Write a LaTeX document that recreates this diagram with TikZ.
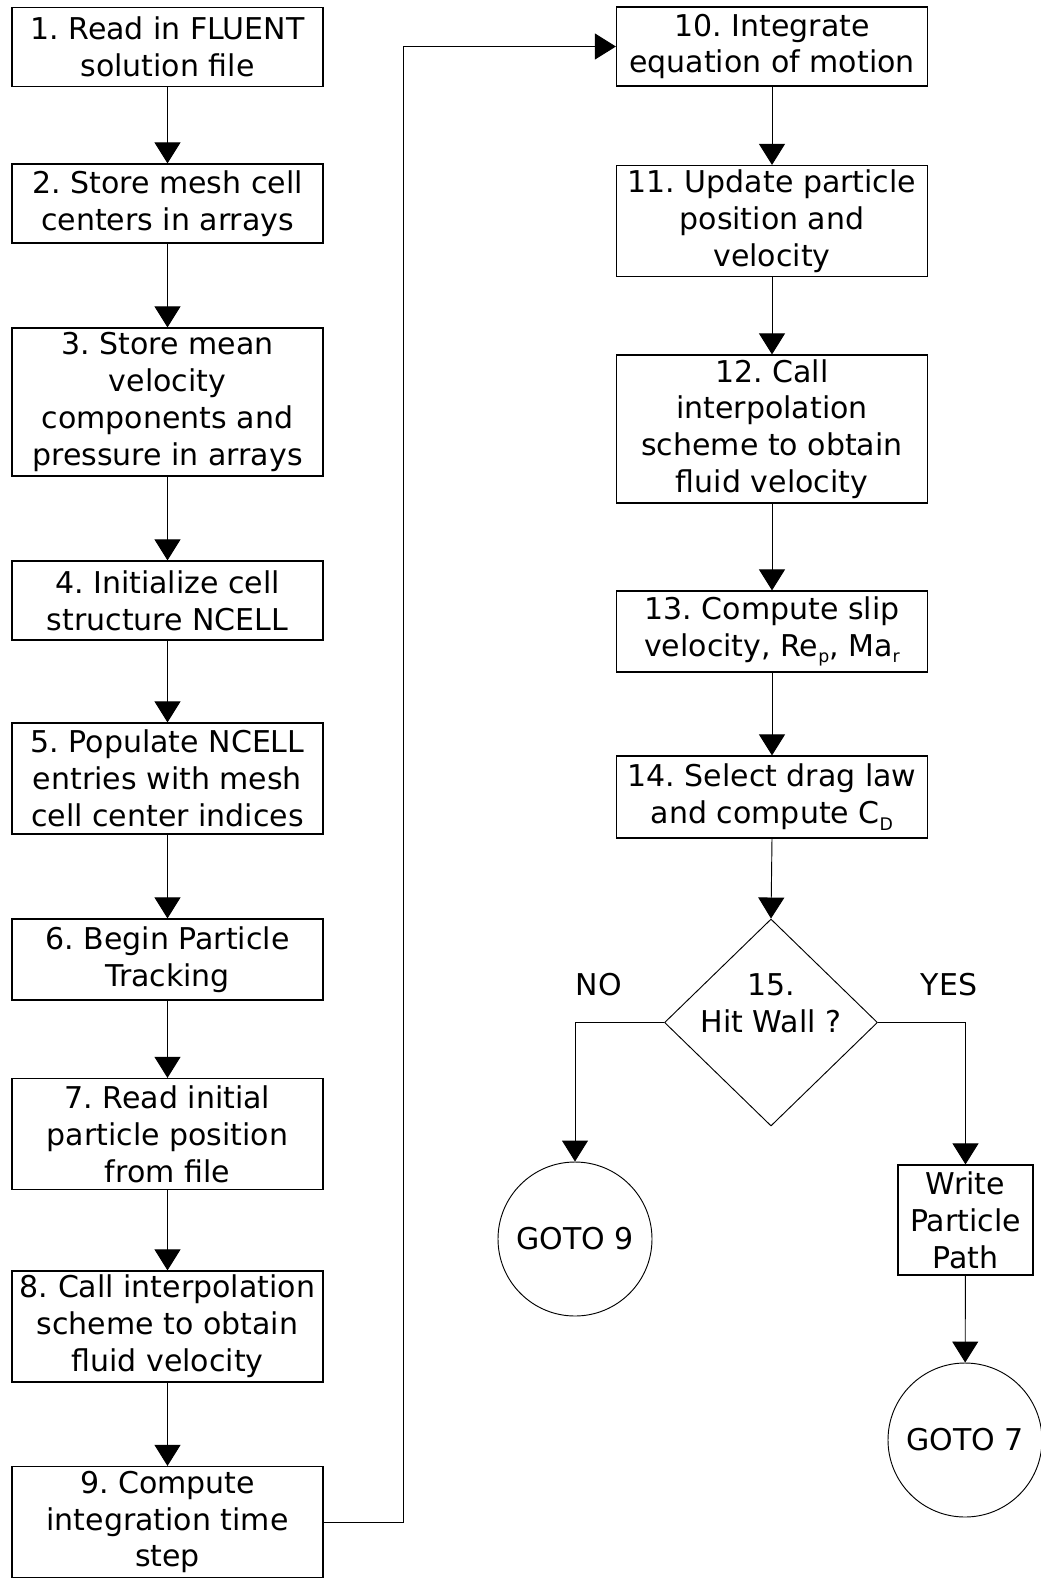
\documentclass[tikz,border=0pt]{standalone}
\usepackage{fontspec}
\setmainfont{DejaVu Sans}
\usetikzlibrary{arrows.meta,shapes.geometric}
\newcommand{\lowsub}[1]{\raisebox{-5pt}{\fontsize{13}{13}\selectfont #1}}
\begin{document}
\frenchspacing
\begin{tikzpicture}[x=0.75pt,y=-0.75pt,
  every node/.style={font=\fontsize{22.5}{27.6}\selectfont\frenchspacing, align=center, inner sep=0pt},
  stepbox/.style={draw, line width=0.9pt, minimum width={311*0.75pt}},
  h2/.style={minimum height={79*0.75pt}},
  h3/.style={minimum height={111*0.75pt}},
  h4/.style={minimum height={148*0.75pt}},
  gotocirc/.style={draw, circle, line width=0.7pt, minimum size={154*0.75pt}},
  conn/.style={line width=0.7pt, -{Triangle[length=15.75pt,width=19.5pt]}},
  plainconn/.style={line width=0.7pt}
]
\useasboundingbox (0,0) rectangle (1041,1579);
% left column
\node[stepbox,h2] (b1) at (167.5,47) {1. Read in FLUENT\\solution file};
\node[stepbox,h2] (b2) at (167.5,203.5) {2. Store mesh cell\\centers in arrays};
\node[stepbox,h4] (b3) at (167.5,402) {3. Store mean\\velocity\\components and\\pressure in arrays};
\node[stepbox,h2] (b4) at (167.5,600.5) {4. Initialize cell\\structure NCELL};
\node[stepbox,h3] (b5) at (167.5,778.5) {5. Populate NCELL\\entries with mesh\\cell center indices};
\node[stepbox,minimum height={81*0.75pt}] (b6) at (167.5,959.5) {6. Begin Particle\\Tracking};
\node[stepbox,h3] (b7) at (167.5,1134) {7. Read initial\\particle position\\from file};
\node[stepbox,h3] (b8) at (167.5,1326.5) {8. Call interpolation\\scheme to obtain\\fluid velocity};
\node[stepbox,h3] (b9) at (167.5,1522) {9. Compute\\integration time\\step};
% right column
\node[stepbox,h2] (b10) at (772,46.5) {10. Integrate\\equation of motion};
\node[stepbox,h3] (b11) at (772,221) {11. Update particle\\position and\\velocity};
\node[stepbox,h4] (b12) at (772,429) {12. Call\\interpolation\\scheme to obtain\\fluid velocity};
\node[stepbox,minimum height={81*0.75pt}] (b13) at (772,631.5) {13. Compute slip\\velocity, Re\lowsub{p}, Ma\lowsub{r}};
\node[stepbox,minimum height={82*0.75pt}] (b14) at (772,797) {14. Select drag law\\and compute C\lowsub{D}};
\node[draw, diamond, line width=0.7pt, minimum width={213*0.75pt}, minimum height={207*0.75pt}] (d) at (771,1022.5) {};
\node (dtext) at (771,1003) {15.\\Hit Wall ?};
\node (no) at (599,985) {NO};
\node (yes) at (949,985) {YES};
\node[gotocirc] (g9) at (575,1239) {GOTO 9};
\node[draw, line width=0.9pt, minimum width={135*0.75pt}, minimum height={110*0.75pt}] (wp) at (965.5,1220) {Write\\Particle\\Path};
\node[gotocirc] (g7) at (965,1440) {GOTO 7};
% connectors
\draw[conn] (b1) -- (b2);
\draw[conn] (b2) -- (b3);
\draw[conn] (b3) -- (b4);
\draw[conn] (b4) -- (b5);
\draw[conn] (b5) -- (b6);
\draw[conn] (b6) -- (b7);
\draw[conn] (b7) -- (b8);
\draw[conn] (b8) -- (b9);
\coordinate (turn) at (403,1522);
\draw[conn] (b9.east) -- (turn) |- (b10.west);
\draw[conn] (b10) -- (b11);
\draw[conn] (b11) -- (b12);
\draw[conn] (b12) -- (b13);
\draw[conn] (b13) -- (b14);
\draw[conn] (b14.south) -- (d.north);
\draw[conn] (d.west) -| (g9.north);
\draw[conn] (d.east) -| (wp.north);
\draw[conn] (wp) -- (g7);
\end{tikzpicture}
\end{document}
